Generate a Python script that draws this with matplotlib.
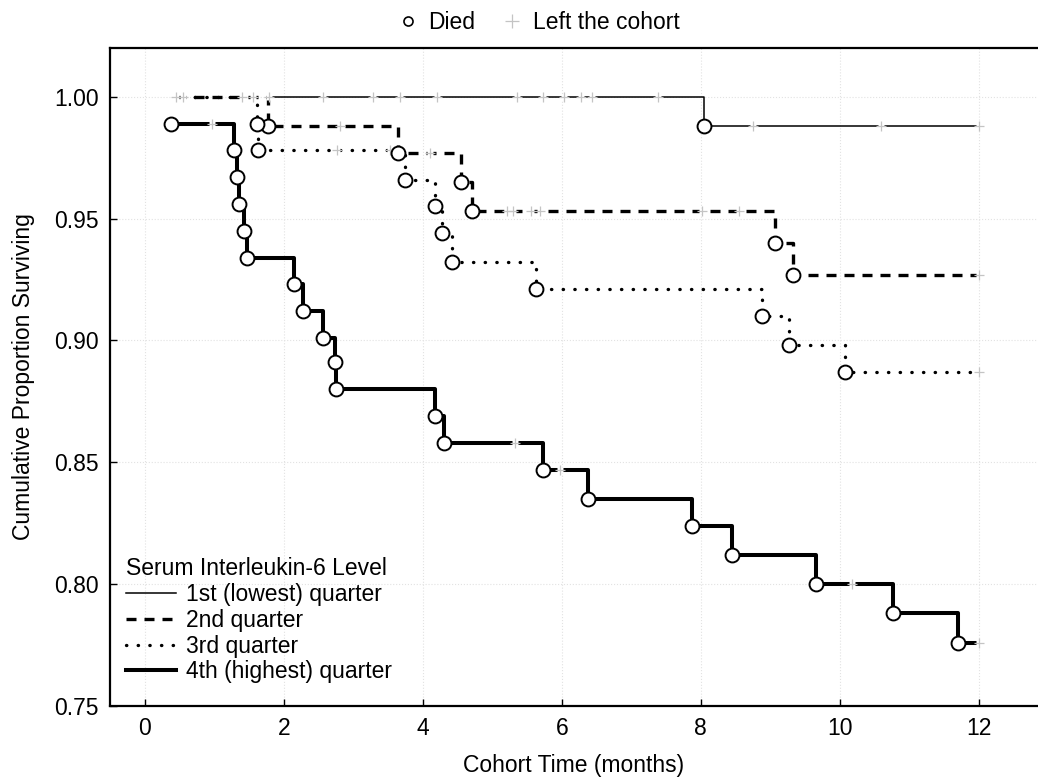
import matplotlib
matplotlib.use("Agg")
import matplotlib.pyplot as plt
from matplotlib.lines import Line2D
from matplotlib.ticker import FormatStrFormatter

plt.rcParams["font.family"] = ["Liberation Sans", "DejaVu Sans"]

# ---------------------------------------------------------------------
# Données (temps en mois, survie cumulée, 1 = décès)
# ---------------------------------------------------------------------
Q1_TIME = [1.78, 2.57, 3.29, 3.67, 4.20, 5.36, 5.73, 6.03, 6.27, 6.44, 7.39,
           8.04, 8.75, 10.59, 12.00]
Q1_SURV = [1.000, 1.000, 1.000, 1.000, 1.000, 1.000, 1.000, 1.000, 1.000,
           1.000, 1.000, 0.988, 0.988, 0.988, 0.988]
Q1_DIED = [0, 0, 0, 0, 0, 0, 0, 0, 0, 0, 0, 1, 0, 0, 0]

Q2_TIME = [0.45, 1.40, 1.77, 2.81, 3.65, 4.10, 4.55, 4.71, 5.21, 5.30, 5.55,
           5.69, 8.02, 8.55, 9.07, 9.32, 12.00]
Q2_SURV = [1.000, 1.000, 0.988, 0.988, 0.977, 0.977, 0.965, 0.953, 0.953,
           0.953, 0.953, 0.953, 0.953, 0.953, 0.940, 0.927, 0.927]
Q2_DIED = [0, 0, 1, 0, 1, 0, 1, 1, 0, 0, 0, 0, 0, 0, 1, 1, 0]

Q3_TIME = [0.55, 1.55, 1.61, 1.63, 2.76, 3.53, 3.75, 4.18, 4.27, 4.42, 4.47,
           5.63, 8.88, 9.27, 9.29, 10.07, 12.00]
Q3_SURV = [1.000, 1.000, 0.989, 0.978, 0.978, 0.978, 0.966, 0.955, 0.944,
           0.932, 0.932, 0.921, 0.910, 0.898, 0.898, 0.887, 0.887]
Q3_DIED = [0, 0, 1, 1, 0, 0, 1, 1, 1, 1, 0, 1, 1, 1, 0, 1, 0]

Q4_TIME = [0.38, 0.96, 1.29, 1.33, 1.35, 1.43, 1.47, 2.15, 2.28, 2.56, 2.73,
           2.75, 4.17, 4.31, 5.32, 5.73, 5.97, 6.38, 7.87, 8.45, 9.65, 10.17,
           10.77, 11.70, 12.00]
Q4_SURV = [0.989, 0.989, 0.978, 0.967, 0.956, 0.945, 0.934, 0.923, 0.912,
           0.901, 0.891, 0.880, 0.869, 0.858, 0.858, 0.847, 0.847, 0.835,
           0.824, 0.812, 0.800, 0.800, 0.788, 0.776, 0.776]
Q4_DIED = [1, 0, 1, 1, 1, 1, 1, 1, 1, 1, 1, 1, 1, 1, 0, 1, 0, 1, 1, 1, 1, 0,
           1, 1, 0]

LABELS = ["1st (lowest) quarter", "2nd quarter", "3rd quarter",
          "4th (highest) quarter"]
Y_TICKS = [0.75, 0.80, 0.85, 0.90, 0.95, 1.00]
X_TICKS = [0, 2, 4, 6, 8, 10, 12]

# styles des quatre quartiles
STYLES = [
    dict(lw=1.1, ls="-"),
    dict(lw=2.4, ls=(0, (3.0, 2.4))),
    dict(lw=2.4, ls=(0, (0.1, 3.4)), dash_capstyle="round"),
    dict(lw=2.9, ls="-"),
]

FS = 16.5

fig = plt.figure(figsize=(10.38, 7.84), dpi=100)
ax = fig.add_axes([0.106, 0.0995, 0.894, 0.8393])

groups = [(Q1_TIME, Q1_SURV, Q1_DIED), (Q2_TIME, Q2_SURV, Q2_DIED),
          (Q3_TIME, Q3_SURV, Q3_DIED), (Q4_TIME, Q4_SURV, Q4_DIED)]

for (t, s, d), st in zip(groups, STYLES):
    ax.step(t, s, where="post", color="black", zorder=3, **st)
    ct = [ti for ti, di in zip(t, d) if not di]
    cs = [si for si, di in zip(s, d) if not di]
    # petite coupure blanche + croix grise pour les sorties de cohorte
    ax.plot(ct, cs, ls="none", marker="s", ms=4.5, mfc="white", mec="none",
            zorder=4)
    ax.plot(ct, cs, ls="none", marker="+", ms=7, mew=0.9, color="#c4c4c4",
            zorder=5)
    dt = [ti for ti, di in zip(t, d) if di]
    ds = [si for si, di in zip(s, d) if di]
    ax.plot(dt, ds, ls="none", marker="o", ms=10, mfc="white", mec="black",
            mew=1.4, zorder=6)

ax.set_xlim(-0.5, 12.85)
ax.set_ylim(0.75, 1.02)
ax.set_xticks(X_TICKS)
ax.set_yticks(Y_TICKS)
ax.yaxis.set_major_formatter(FormatStrFormatter("%.2f"))
ax.tick_params(direction="in", length=5, width=1, labelsize=FS, pad=8)
ax.spines["right"].set_visible(False)
for sp in ["left", "bottom", "top"]:
    ax.spines[sp].set_linewidth(1.6)
ax.grid(True, color="#e2e2e2", ls=":", lw=0.8, zorder=0)

ax.set_xlabel("Cohort Time (months)", fontsize=FS, labelpad=10)
ax.set_ylabel("Cumulative Proportion Surviving", fontsize=FS, labelpad=14)

# légende des groupes (en bas à gauche)
handles = [Line2D([], [], color="black", **st) for st in STYLES]
ax.legend(handles, LABELS, title="Serum Interleukin-6 Level",
          loc="lower left", bbox_to_anchor=(0.0, 0.01), frameon=False,
          fontsize=FS, title_fontsize=FS, handlelength=2.2,
          labelspacing=0.12, borderaxespad=0.3, alignment="left",
          handletextpad=0.4)

# légende des symboles (en haut)
sym = [Line2D([], [], ls="none", marker="o", ms=6.5, mfc="white",
              mec="black", mew=1.2),
       Line2D([], [], ls="none", marker="+", ms=10, mew=0.9, color="#c4c4c4")]
fig.legend(sym, ["Died", "Left the cohort"], loc="upper center",
           bbox_to_anchor=(0.517, 1.012), ncol=2, frameon=False, fontsize=FS,
           handletextpad=0.3, columnspacing=1.0, handlelength=1.2)

fig.savefig("out.png", dpi=100)
